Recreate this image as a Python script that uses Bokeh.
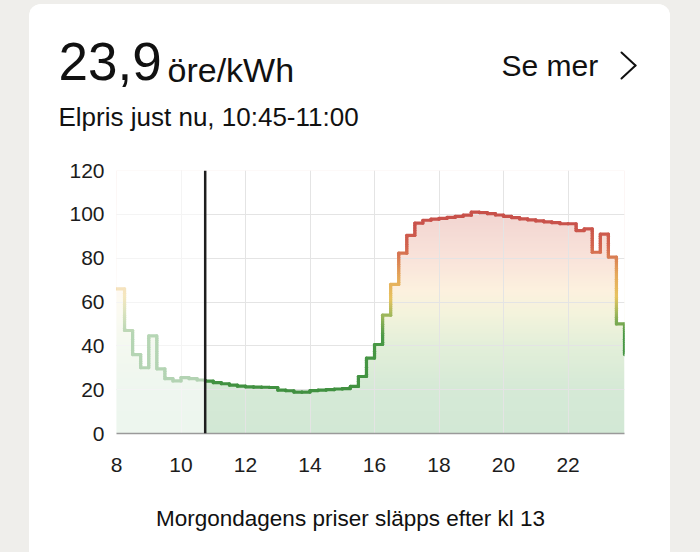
import numpy as np
from bokeh.plotting import figure
from bokeh.models import Range1d, FixedTicker, Span, Label, Arrow
from bokeh.layouts import column
from bokeh.embed import file_html
from bokeh.resources import INLINE

# ---------------- data ----------------
hours = [8.0, 8.25, 8.5, 8.75, 9.0, 9.25, 9.5, 9.75,
         10.0, 10.25, 10.5, 10.75, 11.0, 11.25, 11.5, 11.75,
         12.0, 12.25, 12.5, 12.75, 13.0, 13.25, 13.5, 13.75,
         14.0, 14.25, 14.5, 14.75, 15.0, 15.25, 15.5, 15.75,
         16.0, 16.25, 16.5, 16.75, 17.0, 17.25, 17.5, 17.75,
         18.0, 18.25, 18.5, 18.75, 19.0, 19.25, 19.5, 19.75,
         20.0, 20.25, 20.5, 20.75, 21.0, 21.25, 21.5, 21.75,
         22.0, 22.25, 22.5, 22.75, 23.0, 23.25, 23.5, 23.75]
prices = [66.0, 47.0, 36.0, 30.0, 44.5, 29.5, 25.0, 24.0,
          25.5, 25.0, 24.4, 23.9, 23.2, 22.7, 22.1, 21.6,
          21.3, 21.2, 21.1, 21.0, 19.8, 19.5, 18.9, 18.9,
          19.6, 19.8, 20.0, 20.3, 20.5, 21.5, 26.0, 34.4,
          40.6, 54.0, 68.0, 82.3, 90.4, 96.0, 97.3, 97.8,
          98.2, 98.6, 99.1, 99.6, 101.0, 100.8, 100.3, 99.7,
          99.1, 98.5, 97.9, 97.5, 97.0, 96.6, 96.2, 95.7,
          95.7, 92.6, 93.4, 82.7, 91.0, 80.5, 50.0, 36.0]
now_hour = 10.75
x_ticks = [8, 10, 12, 14, 16, 18, 20, 22]
y_ticks = [0, 20, 40, 60, 80, 100, 120]
grid_y_ticks = [20, 40, 60, 80, 100]
headline_value = "23,9"
headline_unit = "öre/kWh"
subtitle = "Elpris just nu, 10:45-11:00"
link_text = "Se mer"
footer = "Morgondagens priser släpps efter kl 13"

# ---------------- styling ----------------
FONT = "Liberation Sans"
TEXT = "#111111"
LINE_STOPS = [(0, "#3a8a3d"), (45, "#4a9946"), (55, "#a5b95c"), (62, "#e7c35f"),
              (72, "#e5a85a"), (85, "#d3664f"), (95, "#c9524b"), (130, "#c44c46")]
FILL_STOPS = [(0, "#d2e8d5"), (20, "#d5e9d6"), (40, "#e3efd9"), (55, "#f4f3dc"),
              (65, "#fcf1de"), (80, "#f9e3da"), (100, "#f2d5d1"), (130, "#efcbc7")]


def hex_rgb(h):
    h = h.lstrip("#")
    return [int(h[i:i + 2], 16) for i in (0, 2, 4)]


def interp(stops, v):
    for (v0, c0), (v1, c1) in zip(stops[:-1], stops[1:]):
        if v <= v1:
            f = 0.0 if v1 == v0 else max(0.0, (v - v0) / (v1 - v0))
            a, b = hex_rgb(c0), hex_rgb(c1)
            return tuple(int(round(a[k] + (b[k] - a[k]) * f)) for k in range(3))
    return tuple(hex_rgb(stops[-1][1]))


def to_hex(rgb):
    return "#%02x%02x%02x" % rgb


def text_panel(height):
    f = figure(width=641, height=height, title=None, toolbar_location=None,
               output_backend="svg", x_axis_type=None, y_axis_type=None,
               x_range=Range1d(0, 641), y_range=Range1d(0, height),
               min_border=0, min_border_left=0, min_border_right=0,
               min_border_top=0, min_border_bottom=0,
               background_fill_color="white", border_fill_color="white",
               outline_line_color=None, frame_align=False)
    f.grid.visible = False
    return f


def lab(fig, text, x, y, size, align="left"):
    fig.add_layout(Label(x=x, y=y, x_units="screen", y_units="screen", text=text,
                         text_font=FONT, text_font_size=size, text_color=TEXT,
                         text_align=align, text_baseline="alphabetic"))


# ---------------- header ----------------
head = text_panel(146)
lab(head, headline_value, 29, 89, "53px")
lab(head, headline_unit, 138, 81, "34px")
lab(head, link_text, 472, 85, "30px")
lab(head, subtitle, 29, 34, "26px")
for (xa, ya, xb, yb) in [(592, 98, 606, 85), (606, 85, 592, 72)]:
    head.add_layout(Arrow(end=None, x_start=xa, y_start=ya, x_end=xb, y_end=yb,
                          start_units="screen", end_units="screen",
                          line_color=TEXT, line_width=2.0, line_cap="round"))

# ---------------- chart ----------------
x0_, x1_ = hours[0], hours[-1]
y0_, y1_ = 0, 120

p = figure(width=641, height=345, title=None, toolbar_location=None,
           output_backend="svg",
           x_range=Range1d(x0_, x1_), y_range=Range1d(y0_, y1_),
           min_border_left=87, min_border_right=46,
           min_border_top=20, min_border_bottom=62,
           background_fill_color="white", border_fill_color="white",
           outline_line_color=None, frame_align=False)

# gradient fill under the curve (image + white cover above the step curve)
rows = 240
img = np.empty((rows, 2), dtype=np.uint32)
view = img.view(dtype=np.uint8).reshape((rows, 2, 4))
for j in range(rows):
    yv = y0_ + (j + 0.5) * (y1_ - y0_) / rows
    r, g, b = interp(FILL_STOPS, yv)
    view[j, :, 0] = r
    view[j, :, 1] = g
    view[j, :, 2] = b
    view[j, :, 3] = 255
p.image_rgba(image=[img], x=x0_, y=y0_, dw=x1_ - x0_, dh=y1_ - y0_, level="image")

cover_x = [hours[0], hours[0]]
cover_y = [y1_ + 10, prices[0]]
for i in range(len(prices) - 1):
    cover_x += [hours[i + 1], hours[i + 1]]
    cover_y += [prices[i], prices[i + 1]]
cover_x[-1] = hours[-1]
cover_y[-1] = prices[-2]
cover_x += [hours[-1]]
cover_y += [y1_ + 10]
p.patch(cover_x, cover_y, fill_color="white", line_color=None, level="image")

# grid
p.xgrid.ticker = FixedTicker(ticks=x_ticks)
p.ygrid.ticker = FixedTicker(ticks=grid_y_ticks)
p.grid.grid_line_color = "#e4e4e4"
p.grid.grid_line_width = 1

# coloured step line
sx0, sy0, sx1, sy1, sc = [], [], [], [], []
for i in range(len(prices) - 1):
    sx0.append(hours[i]); sx1.append(hours[i + 1])
    sy0.append(prices[i]); sy1.append(prices[i])
    sc.append(to_hex(interp(LINE_STOPS, prices[i])))
    a, b = prices[i], prices[i + 1]
    n = max(1, int(abs(b - a) / 1.0))
    for k in range(n):
        ya = a + (b - a) * k / n
        yb = a + (b - a) * (k + 1) / n
        sx0.append(hours[i + 1]); sx1.append(hours[i + 1])
        sy0.append(ya); sy1.append(yb)
        sc.append(to_hex(interp(LINE_STOPS, (ya + yb) / 2)))
p.segment(x0=sx0, y0=sy0, x1=sx1, y1=sy1, line_color=sc, line_width=3.2,
          line_cap="round")

# fade the past
p.quad(left=x0_, right=now_hour, bottom=y0_, top=y1_, fill_color="white",
       fill_alpha=0.6, line_color=None)

# current time marker
p.add_layout(Span(location=now_hour, dimension="height", line_color="#1e1e1e",
                  line_width=2.5))

# axes
p.xaxis.ticker = FixedTicker(ticks=x_ticks)
p.yaxis.ticker = FixedTicker(ticks=y_ticks)
for ax in (p.xaxis[0], p.yaxis[0]):
    ax.major_tick_line_color = None
    ax.minor_tick_line_color = None
    ax.major_label_text_font = FONT
    ax.major_label_text_font_size = "21px"
    ax.major_label_text_color = "#1c1c1c"
p.yaxis.axis_line_color = None
p.xaxis.axis_line_color = "#9a9a9a"
p.xaxis.axis_line_width = 1.5
p.yaxis.major_label_standoff = 6
p.xaxis.major_label_standoff = 18

# ---------------- footer ----------------
foot = text_panel(57)
lab(foot, footer, 321, 34, "22.5px", align="center")

card = column(head, p, foot, width=641, height=548, spacing=0, margin=(4, 30, 0, 29),
              styles={"background-color": "white", "border-radius": "12px 12px 0 0",
                      "overflow": "hidden"})
root = column(card, width=700, height=552, spacing=0,
              styles={"background-color": "#efeeeb"})

open("out.html", "w").write(file_html(root, INLINE))
